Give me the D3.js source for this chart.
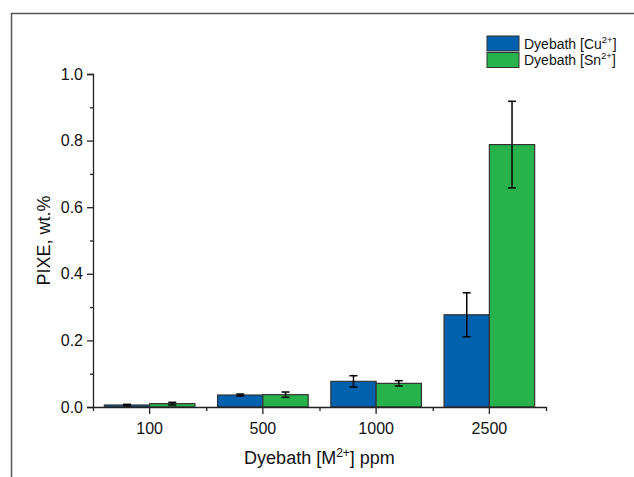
<!DOCTYPE html>
<html>
<head>
<meta charset="utf-8">
<script src="https://cdn.jsdelivr.net/npm/d3@7"></script>
<style>
  body { margin: 0; background: #fff; }
  text { font-family: "Liberation Sans", Arial, sans-serif; fill: #111; }
</style>
</head>
<body>
<div id="viz"></div>
<script>
// data
var categories = ["100", "500", "1000", "2500"];
var cuValues = [0.006, 0.036, 0.077, 0.277];
var cuErrors = [0.002, 0.003, 0.017, 0.066];
var snValues = [0.010, 0.037, 0.071, 0.788];
var snErrors = [0.004, 0.008, 0.008, 0.130];
var yTicks = [0, 0.2, 0.4, 0.6, 0.8, 1.0];
var seriesNames = ["Cu", "Sn"];
var seriesColors = ["#0061ae", "#28b24b"];

var data = categories.map(function(c, i) {
    return [
        {cat: c, key: "Cu", v: cuValues[i], e: cuErrors[i]},
        {cat: c, key: "Sn", v: snValues[i], e: snErrors[i]}
    ];
});

var W = 634, H = 477;
var margin = {top: 74, right: 88, bottom: 70, left: 93};
var width = W - margin.left - margin.right;
var height = H - margin.top - margin.bottom;

var svg = d3.select("#viz").append("svg")
    .attr("width", W)
    .attr("height", H);

// outer frame (top + left only are visible)
svg.append("path")
    .attr("d", "M11.5,477 V13.5 H634")
    .attr("fill", "none")
    .attr("stroke", "#555")
    .attr("stroke-width", 1.5);

var g = svg.append("g")
    .attr("transform", "translate(" + margin.left + "," + margin.top + ")");

var x = d3.scaleBand()
    .domain(categories)
    .range([0, width])
    .paddingInner(0)
    .paddingOuter(0);

var xSub = d3.scaleBand()
    .domain(seriesNames)
    .range([x.bandwidth() * 0.1, x.bandwidth() * 0.9]);

var y = d3.scaleLinear()
    .domain([0, 1.0])
    .range([height, 0]);

var color = d3.scaleOrdinal().domain(seriesNames).range(seriesColors);

// bars
var groups = g.append("g").selectAll("g")
    .data(data)
    .enter().append("g")
    .attr("transform", function(d) { return "translate(" + x(d[0].cat) + ",0)"; });

groups.selectAll("rect")
    .data(function(d) { return d; })
    .enter().append("rect")
    .attr("x", function(d) { return xSub(d.key); })
    .attr("y", function(d) { return y(d.v); })
    .attr("width", xSub.bandwidth())
    .attr("height", function(d) { return y(0) - y(d.v); })
    .attr("fill", function(d) { return color(d.key); })
    .attr("stroke", "#333")
    .attr("stroke-width", 1.2);

// error bars
var err = groups.selectAll(".err")
    .data(function(d) { return d; })
    .enter().append("g")
    .attr("class", "err")
    .attr("stroke", "#000")
    .attr("stroke-width", 1.5);

err.append("line")
    .attr("x1", function(d) { return xSub(d.key) + xSub.bandwidth() / 2; })
    .attr("x2", function(d) { return xSub(d.key) + xSub.bandwidth() / 2; })
    .attr("y1", function(d) { return y(d.v - d.e); })
    .attr("y2", function(d) { return y(d.v + d.e); });

err.append("line")
    .attr("x1", function(d) { return xSub(d.key) + xSub.bandwidth() / 2 - 4; })
    .attr("x2", function(d) { return xSub(d.key) + xSub.bandwidth() / 2 + 4; })
    .attr("y1", function(d) { return y(d.v + d.e); })
    .attr("y2", function(d) { return y(d.v + d.e); });

err.append("line")
    .attr("x1", function(d) { return xSub(d.key) + xSub.bandwidth() / 2 - 4; })
    .attr("x2", function(d) { return xSub(d.key) + xSub.bandwidth() / 2 + 4; })
    .attr("y1", function(d) { return y(d.v - d.e); })
    .attr("y2", function(d) { return y(d.v - d.e); });

// y axis, minor ticks first
g.append("g")
    .call(d3.axisLeft(y).tickValues(d3.range(0.1, 1.0, 0.2)).tickSize(3).tickFormat(""))
    .call(function(a) { a.select(".domain").remove(); })
    .selectAll("line").attr("stroke", "#222").attr("stroke-width", 1.3);

var yAxis = g.append("g")
    .call(d3.axisLeft(y).tickValues(yTicks).tickSize(6).tickPadding(4).tickFormat(d3.format(".1f")));
yAxis.select(".domain").attr("stroke", "#222").attr("stroke-width", 1.3);
yAxis.selectAll("line").attr("stroke", "#222").attr("stroke-width", 1.3);
yAxis.selectAll("text").style("font-size", "16px").attr("fill", "#111");

// x axis: major ticks at categories, minor at band edges
var xMinor = d3.scaleLinear().domain([0, 4]).range([0, width]);
g.append("g")
    .attr("transform", "translate(0," + height + ")")
    .call(d3.axisBottom(xMinor).tickValues([0, 1, 2, 3, 4]).tickSize(4).tickFormat(""))
    .call(function(a) { a.select(".domain").remove(); })
    .selectAll("line").attr("stroke", "#222").attr("stroke-width", 1.3);

var xAxis = g.append("g")
    .attr("transform", "translate(0," + height + ")")
    .call(d3.axisBottom(x).tickSize(7).tickSizeOuter(0).tickPadding(9));
xAxis.select(".domain").attr("stroke", "#222").attr("stroke-width", 1.3);
xAxis.selectAll("line").attr("stroke", "#222").attr("stroke-width", 1.3);
xAxis.selectAll("text").style("font-size", "16px").attr("fill", "#111");

// axis titles
var xt = svg.append("text")
    .attr("x", margin.left + width / 2)
    .attr("y", 464)
    .attr("text-anchor", "middle")
    .style("font-size", "18px");
xt.append("tspan").text("Dyebath [M");
xt.append("tspan").attr("dy", -7).style("font-size", "12px").text("2+");
xt.append("tspan").attr("dy", 7).text("] ppm");

svg.append("text")
    .attr("transform", "translate(50," + (margin.top + height / 2) + ") rotate(-90)")
    .attr("text-anchor", "middle")
    .style("font-size", "18px")
    .text("PIXE, wt.%");

// legend
var legend = svg.append("g").selectAll("g")
    .data(seriesNames)
    .enter().append("g")
    .attr("transform", function(d, i) { return "translate(487," + (36 + i * 16.5) + ")"; });

legend.append("rect")
    .attr("width", 32)
    .attr("height", 15)
    .attr("fill", function(d) { return color(d); })
    .attr("stroke", "#333")
    .attr("stroke-width", 1);

var lt = legend.append("text")
    .attr("x", 37)
    .attr("y", 12.5)
    .style("font-size", "14px");
lt.append("tspan").text(function(d) { return "Dyebath [" + d; });
lt.append("tspan").attr("dy", -6).style("font-size", "9.5px").text("2+");
lt.append("tspan").attr("dy", 6).text("]");
</script>
</body>
</html>
